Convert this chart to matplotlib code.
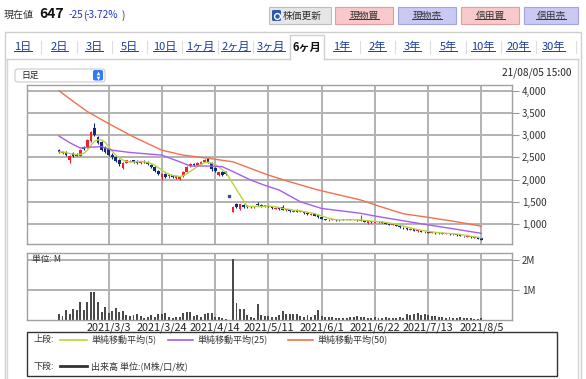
import numpy as np
import pandas as pd
import matplotlib
matplotlib.use("Agg")
import matplotlib.pyplot as plt
from matplotlib.patches import Rectangle, FancyBboxPatch
from matplotlib.lines import Line2D

plt.rcParams['font.family'] = ['Noto Sans CJK JP', 'DejaVu Sans']

# ---- data (daily, 2021/2/9 .. 2021/8/5) ----
tick_labels = ['2021/3/3', '2021/3/24', '2021/4/14', '2021/5/11',
               '2021/6/1', '2021/6/22', '2021/7/13', '2021/8/5']
tick_days = [14, 29, 44, 59, 74, 89, 104, 119]

opens = [2660, 2600, 2620, 2450, 2590, 2580, 2540, 2740, 2740, 2860,
         3160, 2960, 2850, 2740, 2690, 2560, 2500, 2440, 2260, 2380,
         2400, 2430, 2420, 2380, 2410, 2400, 2330, 2280, 2200, 2060,
         2120, 2070, 2100, 2030, 2010, 2070, 2170, 2300, 2340, 2320,
         2360, 2400, 2460, 2380, 2260, 2110, 2180, 2170, None, 1280,
         1460, 1330, 1420, 1400, 1390, 1380, 1460, 1420, 1400, 1410,
         1380, 1340, 1360, 1380, 1310, 1330, 1280, 1320, 1270, 1290,
         1240, 1210, 1230, 1200, 1150, 1110, 1080, 1090, 1100, 1080,
         1100, 1090, 1100, 1090, 1100, 1070, 1080, 1020, 1060, 1030,
         1040, 1050, 1030, 1000, 980, 990, 960, 920, 900, 870,
         880, 840, 850, 810, 820, 800, 800, 790, 800, 780,
         790, 770, 770, 750, 730, 710, 720, 690, 700, 680]
highs = [2680, 2650, 2640, 2560, 2610, 2600, 2680, 2760, 2920, 3100,
         3270, 2990, 2870, 2760, 2710, 2590, 2520, 2460, 2390, 2440,
         2440, 2450, 2440, 2420, 2430, 2410, 2350, 2300, 2220, 2150,
         2140, 2120, 2110, 2090, 2060, 2200, 2300, 2370, 2380, 2390,
         2420, 2470, 2480, 2400, 2280, 2180, 2200, 2190, None, 1400,
         1480, 1460, 1440, 1420, 1400, 1410, 1490, 1440, 1430, 1420,
         1390, 1380, 1370, 1420, 1340, 1340, 1310, 1330, 1300, 1300,
         1250, 1240, 1240, 1210, 1160, 1120, 1110, 1110, 1110, 1110,
         1110, 1120, 1110, 1110, 1110, 1200, 1090, 1070, 1070, 1060,
         1070, 1060, 1040, 1010, 1000, 1000, 970, 930, 910, 900,
         890, 870, 860, 840, 830, 820, 810, 810, 810, 800,
         800, 790, 780, 760, 740, 730, 730, 710, 710, 690]
lows = [2600, 2580, 2540, 2380, 2510, 2520, 2520, 2660, 2720, 2840,
        2980, 2800, 2650, 2600, 2540, 2470, 2390, 2310, 2230, 2370,
        2390, 2380, 2360, 2360, 2380, 2320, 2260, 2180, 2100, 2000,
        2040, 2040, 2030, 2010, 2000, 2060, 2160, 2280, 2300, 2310,
        2350, 2390, 2380, 2200, 2180, 2090, 2090, 2100, None, 1260,
        1370, 1310, 1370, 1370, 1360, 1370, 1410, 1390, 1390, 1380,
        1340, 1330, 1320, 1310, 1300, 1280, 1260, 1260, 1260, 1230,
        1210, 1200, 1180, 1140, 1110, 1080, 1070, 1080, 1070, 1070,
        1080, 1080, 1080, 1080, 1070, 1060, 1040, 1010, 1030, 1020,
        1030, 1020, 990, 970, 970, 950, 920, 890, 870, 860,
        840, 830, 810, 800, 790, 790, 780, 780, 770, 770,
        760, 760, 740, 720, 710, 700, 690, 680, 665, 640]
closes = [2620, 2630, 2560, 2540, 2530, 2540, 2660, 2680, 2890, 3080,
          3000, 2820, 2670, 2630, 2560, 2500, 2410, 2340, 2380, 2430,
          2420, 2400, 2380, 2410, 2390, 2340, 2280, 2200, 2120, 2130,
          2060, 2100, 2060, 2070, 2050, 2180, 2280, 2350, 2320, 2370,
          2400, 2450, 2400, 2230, 2200, 2160, 2110, 2120, None, 1390,
          1380, 1440, 1390, 1380, 1380, 1390, 1420, 1400, 1420, 1390,
          1350, 1370, 1330, 1320, 1330, 1290, 1300, 1270, 1290, 1240,
          1220, 1230, 1190, 1150, 1120, 1090, 1100, 1100, 1080, 1100,
          1090, 1110, 1090, 1100, 1080, 1090, 1050, 1060, 1040, 1050,
          1060, 1030, 1000, 980, 990, 960, 930, 900, 880, 890,
          850, 860, 820, 830, 800, 810, 790, 800, 780, 790,
          770, 780, 750, 730, 720, 720, 700, 700, 672, 647]
# day 48: only a quote, no trade
quote_day = 48
quote_price = 1640

volume_m = [0.19, 0.13, 0.32, 0.21, 0.36, 0.33, 0.60, 0.33, 0.60, 0.94,
            0.94, 0.58, 0.27, 0.43, 0.24, 0.30, 0.41, 0.27, 0.30, 0.17,
            0.13, 0.16, 0.19, 0.13, 0.08, 0.11, 0.17, 0.11, 0.19, 0.19,
            0.24, 0.11, 0.08, 0.10, 0.11, 0.24, 0.28, 0.27, 0.13, 0.16,
            0.11, 0.19, 0.22, 0.24, 0.11, 0.11, 0.08, 0.04, 0.00, 2.02,
            0.56, 0.36, 0.36, 0.16, 0.11, 0.08, 0.52, 0.16, 0.13, 0.13,
            0.11, 0.11, 0.16, 0.30, 0.19, 0.19, 0.19, 0.19, 0.13, 0.11,
            0.16, 0.11, 0.17, 0.32, 0.13, 0.11, 0.11, 0.10, 0.08, 0.06,
            0.06, 0.08, 0.10, 0.11, 0.13, 0.11, 0.09, 0.08, 0.07, 0.10,
            0.08, 0.06, 0.10, 0.08, 0.07, 0.08, 0.10, 0.08, 0.19, 0.16,
            0.19, 0.24, 0.16, 0.19, 0.16, 0.13, 0.13, 0.11, 0.10, 0.08,
            0.09, 0.08, 0.07, 0.11, 0.07, 0.06, 0.06, 0.04, 0.04, 0.05]

ma25_days = [0, 3, 6, 9, 12, 15, 20, 29, 34, 37, 42, 46, 49, 54, 58, 62, 68, 74, 85, 90, 104, 112, 119]
ma25_vals = [2980, 2830, 2710, 2730, 2740, 2660, 2610, 2550, 2400, 2305, 2305, 2290, 2180,
             1990, 1870, 1765, 1500, 1350, 1240, 1165, 980, 880, 790]
ma50_days = [0, 4, 8, 14, 21, 29, 35, 42, 49, 54, 59, 65, 73, 85, 90, 97, 104, 112, 119]
ma50_vals = [4000, 3760, 3530, 3260, 2960, 2660, 2550, 2480, 2400, 2250, 2100, 1950, 1765,
             1540, 1405, 1230, 1150, 1050, 950]

RED = '#f0202a'
NAVY = '#12287a'
C_MA5 = '#b8d43c'
C_MA25 = '#a65cf0'
C_MA50 = '#f2704e'
GRID = '#b2b2b2'

W, H = 586, 379
fig = plt.figure(figsize=(W / 100, H / 100), dpi=100)
fig.patch.set_facecolor('white')


def fx(x):
    return x / W


def fy(y):
    return 1 - y / H


def box(x0, y0, x1, y1):
    return [fx(x0), fy(y1), (x1 - x0) / W, (y1 - y0) / H]


def rect(x0, y0, x1, y1, **kw):
    r = Rectangle((fx(x0), fy(y1)), (x1 - x0) / W, (y1 - y0) / H,
                  transform=fig.transFigure, **kw)
    fig.add_artist(r)
    return r


def line(xs, ys, **kw):
    fig.add_artist(Line2D([fx(v) for v in xs], [fy(v) for v in ys],
                          transform=fig.transFigure, **kw))


def txt(x, y, s, **kw):
    kw.setdefault('va', 'center')
    return fig.text(fx(x), fy(y), s, **kw)


# ---- header ----
txt(4, 15, '現在値', fontsize=7.2, color='#333333')
txt(39, 14.5, '647', fontsize=10, fontweight='bold', color='#111111')
txt(69, 15.5, '-25', fontsize=7.3, color='#2233cc')
txt(83, 15.5, '(', fontsize=7.3, color='#333333')
txt(86, 15.5, '-3.72%', fontsize=7.3, color='#2233cc')
txt(122, 15.5, ')', fontsize=7.3, color='#333333')

links = []
rect(269, 7, 331, 24, facecolor='#e6e6e6', edgecolor='#bdbdbd', lw=0.8)
fig.add_artist(FancyBboxPatch((fx(272), fy(21)), 9 / W, 11 / H, boxstyle='round,pad=0,rounding_size=0.003',
                              transform=fig.transFigure, facecolor='#2c5aa8', edgecolor='none'))
fig.add_artist(Line2D([fx(276.5)], [fy(15.5)], marker='o', markersize=4.2, markerfacecolor='none',
                      markeredgecolor='white', markeredgewidth=1.0, transform=fig.transFigure))
txt(283, 15.5, '株価更新', fontsize=7, color='#333333')
buttons = [('現物買', 335, 393, '#f7c9ca', '#e89a9c'),
           ('現物売', 398, 456, '#c9c9f4', '#a3a3e2'),
           ('信用買', 461, 519, '#f7c9ca', '#e89a9c'),
           ('信用売', 524, 578, '#c9c9f4', '#a3a3e2')]
for name, x0, x1, fc, ec in buttons:
    rect(x0, 7, x1, 24, facecolor=fc, edgecolor=ec, lw=0.8)
    links.append(txt((x0 + x1) / 2, 15.5, name, fontsize=7, color='#333333', ha='center'))

# ---- tab panel ----
rect(4.5, 32, 581, 381, facecolor='none', edgecolor='#cfcfcf', lw=1)
line([7, 7], [58.5, 381], color='#d6d6d6', lw=1)
line([578, 578], [58.5, 381], color='#d6d6d6', lw=1)
line([7, 289.5], [58.5, 58.5], color='#d0d0d0', lw=1)
line([324, 578], [58.5, 58.5], color='#d0d0d0', lw=1)
line([289.5, 289.5, 324, 324], [58.5, 35, 35, 58.5], color='#d0d0d0', lw=1)

tabs = ['1日', '2日', '3日', '5日', '10日', '1ヶ月', '2ヶ月', '3ヶ月',
        '6ヶ月', '1年', '2年', '3年', '5年', '10年', '20年', '30年']
tab_x = [23, 59.6, 94, 129, 164.5, 200, 235.5, 271, 306.5, 342, 377, 412, 448, 483, 518, 553.5]
for i, (name, x) in enumerate(zip(tabs, tab_x)):
    if name == '6ヶ月':
        txt(x, 47, name, fontsize=8, fontweight='bold', color='#111111', ha='center')
    else:
        links.append(txt(x, 47, name, fontsize=8, color='#1a3c9c', ha='center'))
    if 0 < i < len(tabs) and name not in ('6ヶ月', '1年'):
        sx = (tab_x[i - 1] + x) / 2
        line([sx, sx], [41, 53], color='#dddddd', lw=0.8)
line([576, 576], [41, 53], color='#dddddd', lw=0.8)

# dropdown + timestamp
fig.add_artist(FancyBboxPatch((fx(15), fy(82)), 90 / W, 13 / H, boxstyle='round,pad=0,rounding_size=0.006',
                              transform=fig.transFigure, facecolor='white', edgecolor='#cccccc', lw=0.8))
txt(21, 75.5, '日足', fontsize=6.3, color='#222222')
fig.add_artist(FancyBboxPatch((fx(93), fy(80.5)), 10 / W, 10.5 / H, boxstyle='round,pad=0,rounding_size=0.004',
                              transform=fig.transFigure, facecolor='#2f7cf6', edgecolor='none'))
for yy, mk in ((73, '^'), (78, 'v')):
    fig.add_artist(Line2D([fx(98)], [fy(yy)], marker=mk, markersize=2.6, color='white',
                          markeredgewidth=0, transform=fig.transFigure))
txt(571, 73, '21/08/05 15:00', fontsize=7.3, color='#222222', ha='right')

# ---- price panel ----
days = np.arange(len(closes))
o = np.array(opens, dtype=float)
hi = np.array(highs, dtype=float)
lo = np.array(lows, dtype=float)
c = np.array(closes, dtype=float)
cols = np.where(c > o, RED, NAVY)

ax = fig.add_axes(box(27, 85, 512, 244))
ax.set_axisbelow(True)
ax.vlines(days, lo, hi, colors=cols, lw=0.8, zorder=2)
body = np.maximum(np.abs(c - o), 15)
ax.bar(days, body, bottom=np.fmin(o, c), width=0.75, color=cols, lw=0, zorder=2)
ax.plot([quote_day], [quote_price], marker='s', markersize=1.6, color='#3050b0', lw=0, zorder=2)

s = pd.Series(c)
ma5 = s.rolling(5, min_periods=1).mean()
gap = s.isna().astype(float).rolling(5, min_periods=1).max() > 0
ma5[gap] = np.nan
ok = ma5.notna().values
ax.plot(days[ok], ma5.values[ok], color=C_MA5, lw=1.0, zorder=3)
ax.plot(ma25_days, ma25_vals, color=C_MA25, lw=1.0, zorder=3)
ax.plot(ma50_days, ma50_vals, color=C_MA50, lw=1.0, zorder=3)

xlim = (-9, 127.6)
ax.set_xlim(*xlim)
ax.set_ylim(550, 4128)
ax.set_xticks(tick_days)
ax.set_yticks(range(1000, 4001, 500))
ax.set_yticklabels([f'{v:,}' for v in range(1000, 4001, 500)])
ax.yaxis.tick_right()
ax.tick_params(axis='y', length=5, width=0.8, color='#999999', labelsize=7, pad=2, labelcolor='#333333')
ax.tick_params(axis='x', length=0, labelbottom=False)
ax.grid(True, color=GRID, lw=1.4)
for sp in ax.spines.values():
    sp.set_color('#a0a0a0')
    sp.set_linewidth(1)

# ---- volume panel ----
axv = fig.add_axes(box(27, 253, 512, 320))
axv.set_axisbelow(True)
axv.bar(days, volume_m, width=0.55, color='#4a4a4a', lw=0, zorder=2)
axv.set_xlim(*xlim)
axv.set_ylim(0, 2.22)
axv.set_yticks([1, 2])
axv.set_yticklabels(['1M', '2M'])
axv.yaxis.tick_right()
axv.tick_params(axis='y', length=5, width=0.8, color='#999999', labelsize=7, pad=2, labelcolor='#333333')
axv.set_xticks(tick_days)
axv.set_xticklabels(tick_labels)
axv.tick_params(axis='x', length=0, labelsize=7.8, pad=1.5, labelcolor='#222222')
axv.grid(True, color=GRID, lw=1.4)
for sp in axv.spines.values():
    sp.set_color('#a0a0a0')
    sp.set_linewidth(1)
txt(32, 259.5, '単位: M', fontsize=6.3, color='#333333')

# ---- legend box ----
rect(27, 332, 557, 375.5, facecolor='none', edgecolor='#333333', lw=1)
txt(34, 339.5, '上段:', fontsize=6.5, color='#333333')
legend_items = [(60, 87, C_MA5, '単純移動平均(5)'),
                (168, 193, C_MA25, '単純移動平均(25)'),
                (288, 313, C_MA50, '単純移動平均(50)')]
for x0, x1, col, label in legend_items:
    line([x0, x1], [339.5, 339.5], color=col, lw=1.2)
    txt(x1 + 4, 339.5, label, fontsize=6.5, color='#333333')
txt(34, 366, '下段:', fontsize=6.5, color='#333333')
line([60, 87], [366, 366], color='#333333', lw=2)
txt(91, 366, '出来高 単位:(M株/口/枚)', fontsize=6.5, color='#333333')

# underline the link texts
fig.canvas.draw()
rend = fig.canvas.get_renderer()
for t in links:
    bb = t.get_window_extent(rend)
    yb = (bb.y0 + 1.5) / fig.bbox.height
    fig.add_artist(Line2D([bb.x0 / fig.bbox.width, bb.x1 / fig.bbox.width], [yb, yb],
                          color=t.get_color(), lw=0.7, transform=fig.transFigure))

fig.savefig('out.png', dpi=100)
